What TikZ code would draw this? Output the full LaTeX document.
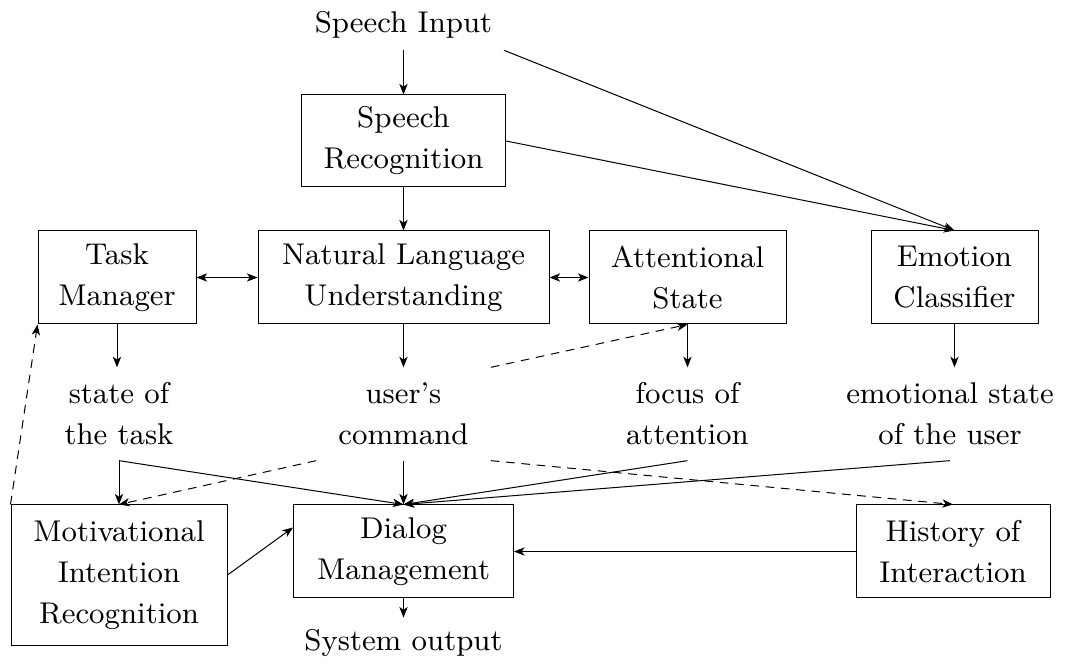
\documentclass[tikz,border=0pt]{standalone}
\usetikzlibrary{calc,arrows.meta}
\begin{document}
\begin{tikzpicture}[x=0.3pt,y=-0.3pt,
  font=\fontsize{9pt}{12.3pt}\selectfont,
  >={Stealth[length=3.2pt,width=2.5pt,inset=0.9pt]},
  box/.style={draw, align=center, inner sep=0pt, line width=0.3pt},
  lbl/.style={align=center},
  flow/.style={->, line width=0.3pt},
  dflow/.style={->, dash pattern=on 2.6pt off 2pt, line width=0.3pt}]
\useasboundingbox (0,0) rectangle (1065,669);

% top input and recognition
\node[lbl] (sin) at (403.5,25) {Speech Input};
\node[box, minimum width=61.2pt, minimum height=27.6pt] (sr) at (403.5,141) {Speech\\Recognition};

% understanding row
\node[box, minimum width=47.4pt, minimum height=27.9pt] (tm) at (117,277.5) {Task\\Manager};
\node[box, minimum width=87.3pt, minimum height=27.9pt] (nlu) at (403.5,277.5) {Natural Language\\Understanding};
\node[box, minimum width=59.1pt, minimum height=27.9pt] (att) at (687.5,277.5) {Attentional\\State};
\node[box, minimum width=50.1pt, minimum height=27.9pt] (emo) at (954.5,277.5) {Emotion\\Classifier};

% intermediate results
\node[lbl, minimum width=52pt, minimum height=27.6pt] (st) at (119,414) {state of\\the task};
\node[lbl, minimum width=52pt, minimum height=27.6pt] (uc) at (403.5,414) {user's\\command};
\node[lbl, minimum height=27.6pt] (fa) at (687.5,414) {focus of\\attention};
\node[lbl, minimum height=27.6pt] (es) at (950,414) {emotional state\\of the user};

% dialog row
\node[box, minimum width=64.8pt, minimum height=42pt] (mir) at (119,575) {Motivational\\Intention\\Recognition};
\node[box, minimum width=66pt, minimum height=27.9pt] (dm) at (403.5,551.5) {Dialog\\Management};
\node[box, minimum width=58.2pt, minimum height=27.9pt] (hist) at (953,551.5) {History of\\Interaction};
\node[lbl] (so) at (403.5,643) {System output};

% solid connectors
\draw[flow] (sin) -- (sr);
\draw[flow] (sin.south east) -- (emo.north);
\draw[flow] (sr.east) -- (emo.north);
\draw[flow] (sr) -- (nlu);
\draw[<->, line width=0.3pt] (tm) -- (nlu);
\draw[<->, line width=0.3pt] (nlu) -- (att);
\draw[flow] (tm.south) -- (tm.south |- st.north);
\draw[flow] (nlu) -- (uc);
\draw[flow] (att) -- (fa);
\draw[flow] (emo.south) -- (emo.south |- es.north);
\draw[flow] (st.south) -- (mir.north);
\draw[flow] (st.south) -- (dm.north);
\draw[flow] (uc.south) -- (dm.north);
\draw[flow] (fa.south) -- (dm.north);
\draw[flow] (es.south) -- (dm.north);
\draw[flow] (hist.west) -- (dm.east);
\draw[flow] (mir.east) -- ([yshift=7.2pt]dm.west);
\draw[flow] (dm) -- (so);

% dashed connectors
\draw[dflow] (mir.north west) -- (tm.south west);
\draw[dflow] (uc.north east) -- (att.south);
\draw[dflow] (uc.south west) -- (mir.north);
\draw[dflow] (uc.south east) -- (hist.north);
\end{tikzpicture}
\end{document}
